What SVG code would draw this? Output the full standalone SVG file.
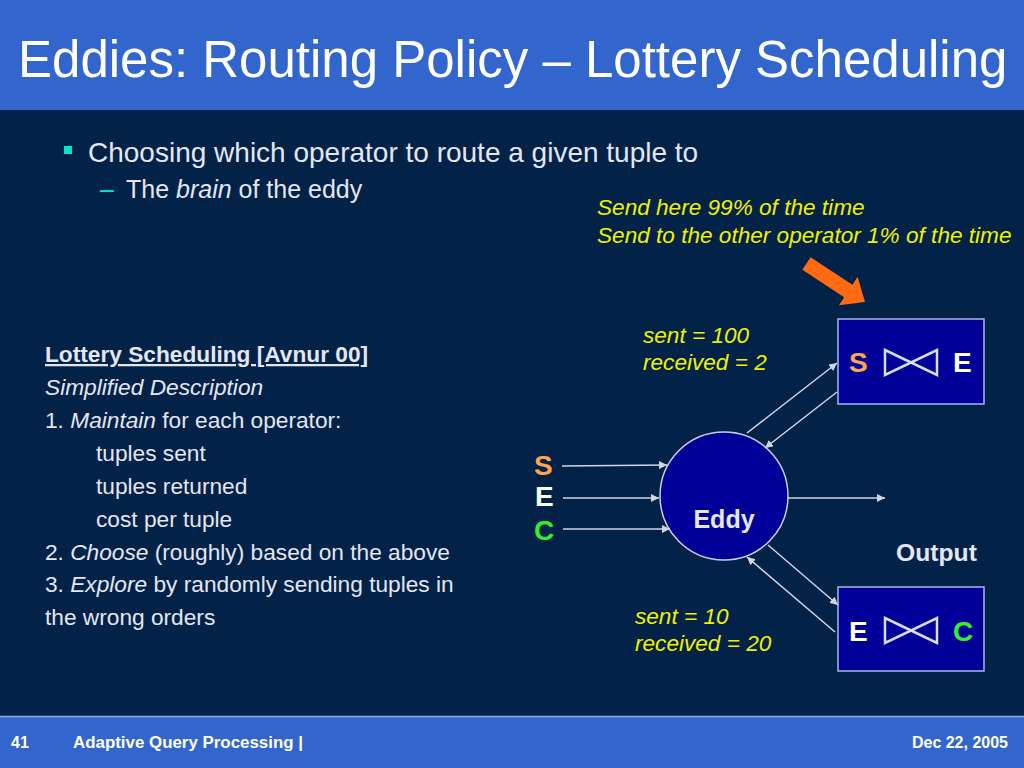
<svg xmlns="http://www.w3.org/2000/svg" width="1024" height="768" viewBox="0 0 1024 768">
<style>
.t{font-family:"Liberation Sans",Arial,sans-serif;fill:#E4E6F2}
.y{font-family:"Liberation Sans",Arial,sans-serif;fill:#F0F000;font-style:italic;font-size:22.6px}
.b{font-weight:bold}
.i{font-style:italic}
.box{fill:#000099;stroke:#A8B8E8;stroke-width:1.5}
.bow{fill:none;stroke:#D8DCF0;stroke-width:2.5;stroke-linejoin:miter}
.c{stroke:#D0D6E6;stroke-width:1.5;fill:none}
.lt{font-family:"Liberation Sans",Arial,sans-serif;font-size:28px;font-weight:bold}
.ft{font-family:"Liberation Sans Narrow","Liberation Sans",Arial,sans-serif;font-size:16px;font-weight:bold;fill:#FFFFFF}
</style>
<defs>
<marker id="ah" viewBox="0 0 10 10" refX="10" refY="5" markerWidth="8" markerHeight="8" markerUnits="userSpaceOnUse" orient="auto">
<path d="M0,0 L10,5 L0,10 Z" fill="#D0D6E6"/>
</marker>
</defs>
<rect width="1024" height="768" fill="#022248"/>
<rect width="1024" height="110" fill="#3366CC"/>
<text x="18" y="77" font-family="Liberation Sans,Arial,sans-serif" font-size="51" fill="#FFFFFF">Eddies: Routing Policy – Lottery Scheduling</text>

<rect x="64" y="146" width="8" height="8" fill="#00E8C8"/>
<text class="t" x="88" y="162" font-size="28">Choosing which operator to route a given tuple to</text>
<text class="t" x="100" y="198" font-size="25"><tspan fill="#00E8C8">–</tspan><tspan x="126">The </tspan><tspan class="i">brain</tspan> of the eddy</text>

<text class="y" x="597" y="215">Send here 99% of the time</text>
<text class="y" x="597" y="243">Send to the other operator 1% of the time</text>

<polygon transform="translate(806.5,263.5) rotate(33.3)" points="0,-7.5 50,-7.5 50,-17 70,0 50,17 50,7.5 0,7.5" fill="#FF6A13"/>

<g id="legend" class="t" font-size="22.7">
<text x="45" y="362" class="b" text-decoration="underline">Lottery Scheduling [Avnur 00]</text>
<text x="45" y="395" class="i">Simplified Description</text>
<text x="45" y="428">1. <tspan class="i">Maintain</tspan> for each operator:</text>
<text x="96" y="461">tuples sent</text>
<text x="96" y="494">tuples returned</text>
<text x="96" y="527">cost per tuple</text>
<text x="45" y="560">2. <tspan class="i">Choose</tspan> (roughly) based on the above</text>
<text x="45" y="592">3. <tspan class="i">Explore</tspan> by randomly sending tuples in</text>
<text x="45" y="625">the wrong orders</text>
</g>

<g id="eddy">
<circle cx="724" cy="496" r="64" fill="#000099" stroke="#C8D0EC" stroke-width="1.5"/>
<text class="t b" x="724" y="528" font-size="25" text-anchor="middle">Eddy</text>
</g>

<g id="op-se">
<rect class="box" x="838" y="319" width="146" height="85"/>
<text class="lt" x="849" y="372" fill="#FFA64D">S</text>
<path class="bow" d="M885,350 L937,375 L937,350 L885,375 Z"/>
<text class="lt" x="953" y="372" fill="#FFFFFF">E</text>
</g>

<g id="op-ec">
<rect class="box" x="838" y="587" width="146" height="84"/>
<text class="lt" x="849" y="641" fill="#FFFFFF">E</text>
<path class="bow" d="M885,618 L937,643 L937,618 L885,643 Z"/>
<text class="lt" x="953" y="641" fill="#33EE33">C</text>
</g>

<g id="inputs">
<text class="lt" x="534" y="475" fill="#FFA64D">S</text>
<text class="lt" x="535" y="506" fill="#FFFFFF">E</text>
<text class="lt" x="534" y="540" fill="#33EE33">C</text>
</g>

<g id="labels">
<text class="y" x="643" y="343">sent = 100</text>
<text class="y" x="643" y="370">received = 2</text>
<text class="y" x="635" y="624">sent = 10</text>
<text class="y" x="635" y="651">received = 20</text>
<text class="t b" x="896" y="561" font-size="24.7">Output</text>
</g>

<g id="connectors">
<line class="c" x1="562" y1="466" x2="667" y2="465" marker-end="url(#ah)"/>
<line class="c" x1="563" y1="498" x2="659" y2="498" marker-end="url(#ah)"/>
<line class="c" x1="563" y1="529" x2="670" y2="529" marker-end="url(#ah)"/>
<line class="c" x1="788" y1="498" x2="885" y2="498" marker-end="url(#ah)"/>
<line class="c" x1="747" y1="433" x2="837" y2="363" marker-end="url(#ah)"/>
<line class="c" x1="837" y1="392" x2="765" y2="448" marker-end="url(#ah)"/>
<line class="c" x1="768" y1="545" x2="838" y2="605" marker-end="url(#ah)"/>
<line class="c" x1="835" y1="632" x2="747" y2="557" marker-end="url(#ah)"/>
</g>

<rect x="0" y="716" width="1024" height="52" fill="#3366CC"/>
<line x1="0" y1="716.5" x2="1024" y2="716.5" stroke="#8CAAE8" stroke-width="1.5"/>
<text class="ft" x="11" y="748">41</text>
<text class="ft" x="73" y="748" textLength="230" lengthAdjust="spacingAndGlyphs">Adaptive Query Processing |</text>
<text class="ft" x="1008" y="748" text-anchor="end">Dec 22, 2005</text>
</svg>
